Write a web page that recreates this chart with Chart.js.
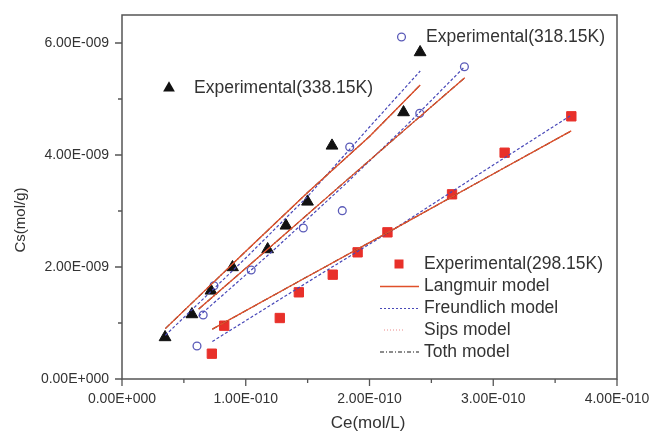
<!DOCTYPE html>
<html><head><meta charset="utf-8">
<script src="https://cdn.jsdelivr.net/npm/chart.js@4/dist/chart.umd.min.js"></script>
<style>html,body{margin:0;padding:0;background:#fff;}#wrap{width:650px;height:432px;}</style>
</head><body><div id="wrap"><canvas id="c" width="650" height="432"></canvas></div>
<script>
// ---- Experimental data (Ce mol/L, Cs mol/g) ----
const ce338 = [0.348e-10,0.565e-10,0.719e-10,0.893e-10,1.177e-10,1.325e-10,1.499e-10,1.697e-10,2.275e-10,2.409e-10];
const cs338 = [0.745e-9,1.155e-9,1.577e-9,1.995e-9,2.316e-9,2.738e-9,3.166e-9,4.166e-9,4.762e-9,5.834e-9];
const ce318 = [0.606e-10,0.656e-10,0.743e-10,1.044e-10,1.465e-10,1.780e-10,1.840e-10,2.406e-10,2.767e-10];
const cs318 = [0.589e-9,1.143e-9,1.666e-9,1.946e-9,2.696e-9,3.006e-9,4.143e-9,4.744e-9,5.577e-9];
const ce298 = [0.726e-10,0.826e-10,1.275e-10,1.429e-10,1.703e-10,1.904e-10,2.145e-10,2.667e-10,3.092e-10,3.631e-10];
const cs298 = [0.452e-9,0.952e-9,1.089e-9,1.548e-9,1.863e-9,2.262e-9,2.619e-9,3.298e-9,4.041e-9,4.691e-9];

// ---- Model curves ----
const mx338 = [0.35e-10,1.0e-10,1.5e-10,2.0e-10,2.41e-10];
const langmuir338 = [0.90e-9,2.28e-9,3.33e-9,4.33e-9,5.25e-9];
const freundlich338 = [0.78e-9,2.16e-9,3.26e-9,4.50e-9,5.50e-9];
const sips338 = [0.90e-9,2.28e-9,3.33e-9,4.33e-9,5.25e-9];
const toth338 = [0.90e-9,2.28e-9,3.33e-9,4.33e-9,5.25e-9];

const mx318 = [0.62e-10,1.2e-10,1.8e-10,2.3e-10,2.77e-10];
const langmuir318 = [1.25e-9,2.36e-9,3.52e-9,4.48e-9,5.38e-9];
const freundlich318 = [1.12e-9,2.25e-9,3.47e-9,4.53e-9,5.58e-9];
const sips318 = [1.25e-9,2.36e-9,3.52e-9,4.48e-9,5.38e-9];
const toth318 = [1.25e-9,2.36e-9,3.52e-9,4.48e-9,5.38e-9];

const mx298 = [0.73e-10,1.5e-10,2.2e-10,2.9e-10,3.63e-10];
const langmuir298 = [0.89e-9,1.83e-9,2.68e-9,3.54e-9,4.43e-9];
const freundlich298 = [0.67e-9,1.73e-9,2.68e-9,3.68e-9,4.71e-9];
const sips298 = [0.89e-9,1.83e-9,2.68e-9,3.54e-9,4.43e-9];
const toth298 = [0.89e-9,1.83e-9,2.68e-9,3.54e-9,4.43e-9];

// ---- Axes ----
const xTickValues = [0,1e-10,2e-10,3e-10,4e-10];
const xTickLabels = ["0.00E+000","1.00E-010","2.00E-010","3.00E-010","4.00E-010"];
const xMinorTicks = [0.5e-10,1.5e-10,2.5e-10,3.5e-10];
const yTickValues = [0,2e-9,4e-9,6e-9];
const yTickLabels = ["0.00E+000","2.00E-009","4.00E-009","6.00E-009"];
const yMinorTicks = [1e-9,3e-9,5e-9];
const xTitle = "Ce(mol/L)";
const yTitle = "Cs(mol/g)";
const seriesNames = ["Experimental(318.15K)","Experimental(338.15K)","Experimental(298.15K)","Langmuir model","Freundlich model","Sips model","Toth model"];

const FONT = "'Liberation Sans', Arial, sans-serif";
const TXT = '#333';
const C_L = '#e0502a', C_F = '#4848b8', C_S = '#ec8a8a', C_T = '#1a1a1a';
const pts = (xs, ys) => xs.map((x,i)=>({x, y: ys[i]}));

function modelSets(mx, L, F, S, T){
  return [
    {type:'line', data:pts(mx,L), borderColor:C_L, borderWidth:1.3, pointRadius:0, fill:false},
    {type:'line', data:pts(mx,S), borderColor:C_S, borderWidth:1, borderDash:[1,2], pointRadius:0, fill:false},
    {type:'line', data:pts(mx,T), borderColor:C_T, borderWidth:1.15, borderDash:[6,2,1.5,2], pointRadius:0, fill:false},
    {type:'line', data:pts(mx,F), borderColor:C_F, borderWidth:1.2, borderDash:[3,2], pointRadius:0, fill:false}
  ];
}

const datasets = [
  ...modelSets(mx338, langmuir338, freundlich338, sips338, toth338),
  ...modelSets(mx318, langmuir318, freundlich318, sips318, toth318),
  ...modelSets(mx298, langmuir298, freundlich298, sips298, toth298),
  {type:'scatter', label:seriesNames[1], data:pts(ce338,cs338), pointStyle:'triangle', pointRadius:6.8, backgroundColor:'#111', borderColor:'#111', borderWidth:1},
  {type:'scatter', label:seriesNames[0], data:pts(ce318,cs318), pointStyle:'circle', pointRadius:3.9, backgroundColor:'rgba(0,0,0,0)', borderColor:'#5a5ab8', borderWidth:1.3},
  {type:'scatter', label:seriesNames[2], data:pts(ce298,cs298), pointStyle:'rect', pointRadius:6.6, backgroundColor:'#e8302a', borderColor:'#e8302a', borderWidth:1}
];

function tri(ctx,x,y,r){ctx.beginPath();ctx.moveTo(x,y-r);ctx.lineTo(x+r*0.866,y+r*0.5);ctx.lineTo(x-r*0.866,y+r*0.5);ctx.closePath();ctx.fill();}

const decor = {
  id:'decor',
  beforeDatasetsDraw(chart){
    const {ctx, chartArea:a, scales:{x, y}} = chart;
    ctx.save();
    ctx.strokeStyle = '#555'; ctx.lineWidth = 1.5;
    ctx.strokeRect(a.left, a.top, a.right-a.left, a.bottom-a.top);
    ctx.lineWidth = 1.3;
    ctx.beginPath();
    xTickValues.forEach(v=>{const p=x.getPixelForValue(v);ctx.moveTo(p,a.bottom);ctx.lineTo(p,a.bottom+7);});
    xMinorTicks.forEach(v=>{const p=x.getPixelForValue(v);ctx.moveTo(p,a.bottom);ctx.lineTo(p,a.bottom+4);});
    yTickValues.forEach(v=>{const p=y.getPixelForValue(v);ctx.moveTo(a.left,p);ctx.lineTo(a.left-7,p);});
    yMinorTicks.forEach(v=>{const p=y.getPixelForValue(v);ctx.moveTo(a.left,p);ctx.lineTo(a.left-4,p);});
    ctx.stroke();
    ctx.restore();
  },
  afterDraw(chart){
    const {ctx} = chart;
    ctx.save();
    ctx.fillStyle = TXT;
    ctx.textBaseline = 'middle';
    // axis titles
    ctx.font = `17px ${FONT}`;
    ctx.textAlign = 'center';
    ctx.fillText(xTitle, 368, 423);
    ctx.save(); ctx.translate(21, 220); ctx.rotate(-Math.PI/2);
    ctx.font = `15px ${FONT}`;
    ctx.fillText(yTitle, 0, 0); ctx.restore();
    // legends
    ctx.font = `17.5px ${FONT}`;
    ctx.textAlign = 'left';
    // 318
    ctx.strokeStyle = '#5a5ab8'; ctx.lineWidth = 1.3;
    ctx.beginPath(); ctx.arc(401.5, 37, 3.9, 0, Math.PI*2); ctx.stroke();
    ctx.fillText(seriesNames[0], 426, 37);
    // 338
    ctx.fillStyle = '#111'; tri(ctx, 169, 88, 6.8);
    ctx.fillStyle = TXT; ctx.fillText(seriesNames[1], 194, 88);
    // 298
    ctx.fillStyle = '#e8302a'; ctx.fillRect(394.5, 259.5, 9, 9);
    ctx.fillStyle = TXT; ctx.fillText(seriesNames[2], 424, 264);
    const rows = [
      {y:286.5, c:C_L, d:[], w:1.3, x0:380, x1:419},
      {y:308.5, c:C_F, d:[2,2], w:1.2, x0:380, x1:419},
      {y:330, c:C_S, d:[1,2], w:1, x0:384, x1:405},
      {y:352, c:C_T, d:[4,2,1,2], w:1.1, x0:380, x1:419}
    ];
    rows.forEach((r,i)=>{
      ctx.strokeStyle=r.c; ctx.lineWidth=r.w; ctx.setLineDash(r.d);
      ctx.beginPath(); ctx.moveTo(r.x0,r.y); ctx.lineTo(r.x1,r.y); ctx.stroke();
      ctx.setLineDash([]);
      ctx.fillStyle = TXT; ctx.fillText(seriesNames[3+i], 424, r.y);
    });
    ctx.restore();
  }
};

new Chart(document.getElementById('c'), {
  type:'scatter',
  data:{datasets},
  options:{
    responsive:false, animation:false, devicePixelRatio:1,
    layout:{padding:{top:15, right:33, left:0, bottom:0}},
    plugins:{legend:{display:false}, tooltip:{enabled:false}},
    scales:{
      x:{type:'linear', min:0, max:4e-10,
        afterBuildTicks:s=>{s.ticks = xTickValues.map(v=>({value:v}));},
        afterFit:s=>{s.height = 53; s.paddingLeft = 0; s.paddingRight = 0;},
        grid:{display:false, drawTicks:false}, border:{display:false},
        ticks:{padding:12, color:TXT, font:{family:FONT, size:14}, maxRotation:0, autoSkip:false,
          callback:(v,i)=>xTickLabels[i]}
      },
      y:{type:'linear', min:0, max:6.5e-9,
        afterBuildTicks:s=>{s.ticks = yTickValues.map(v=>({value:v}));},
        afterFit:s=>{s.width = 122; s.paddingTop = 0; s.paddingBottom = 0;},
        grid:{display:false, drawTicks:false}, border:{display:false},
        ticks:{padding:13, color:TXT, font:{family:FONT, size:14}, autoSkip:false,
          callback:(v,i)=>yTickLabels[i]}
      }
    }
  },
  plugins:[decor]
});
</script></body></html>
